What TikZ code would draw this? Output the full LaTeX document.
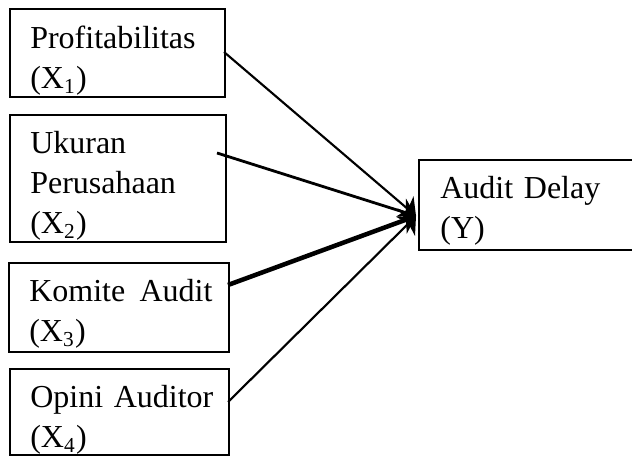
\documentclass[tikz,border=0pt]{standalone}
\usepackage{fontspec}
\setmainfont{Liberation Serif}
\usetikzlibrary{arrows.meta}
\hyphenpenalty=10000

\begin{document}
\begin{tikzpicture}[x=0.375pt, y=-0.375pt, >={Stealth[length=5.5pt, width=10pt, inset=1.5pt]},
        varbox/.style={draw, line width=0.75pt, anchor=base west, align=left, inner xsep=7.6pt, inner ysep=0pt,
            font=\fontsize{12pt}{15pt}\selectfont},
        link/.style={->, line width=0.8pt}]
        \useasboundingbox (0, 0) rectangle (632, 457);

        % independent variables
        \node[varbox, text width=65.4pt, text height=15pt, text depth=18pt] (x1) at (9, 49)
            {Profitabilitas\\(X\textsubscript{1})};
        \node[varbox, text width=65.8pt, text height=14.6pt, text depth=33pt] (x2) at (9, 154)
            {Ukuran\\Perusahaan\\(X\textsubscript{2})};
        \node[varbox, text width=67.3pt, text height=14.6pt, text depth=18.75pt] (x3) at (8, 302)
            {\mbox{Komite\hspace{0.45em}Audit}\\(X\textsubscript{3})};
        \node[varbox, text width=66.9pt, text height=14.6pt, text depth=17.6pt] (x4) at (9, 408)
            {Opini~Auditor\\(X\textsubscript{4})};

        % dependent variable
        \node[varbox, inner xsep=8pt, text width=75pt, text height=14.6pt, text depth=19.1pt] (y) at (418, 199)
            {Audit~Delay\\(Y)};

        % arrows
        \coordinate (s1) at (224, 52);
        \coordinate (s2) at (217, 153);
        \coordinate (s3) at (228, 285);
        \coordinate (s4) at (228, 402);
        \coordinate (t) at (416, 216);
        \draw[link] (s1) -- (t);
        \draw[link, line width=1.05pt] (s2) -- (t);
        \draw[link, line width=1.7pt] (s3) -- (t);
        \draw[link] (s4) -- (t);
    \end{tikzpicture}
\end{document}
